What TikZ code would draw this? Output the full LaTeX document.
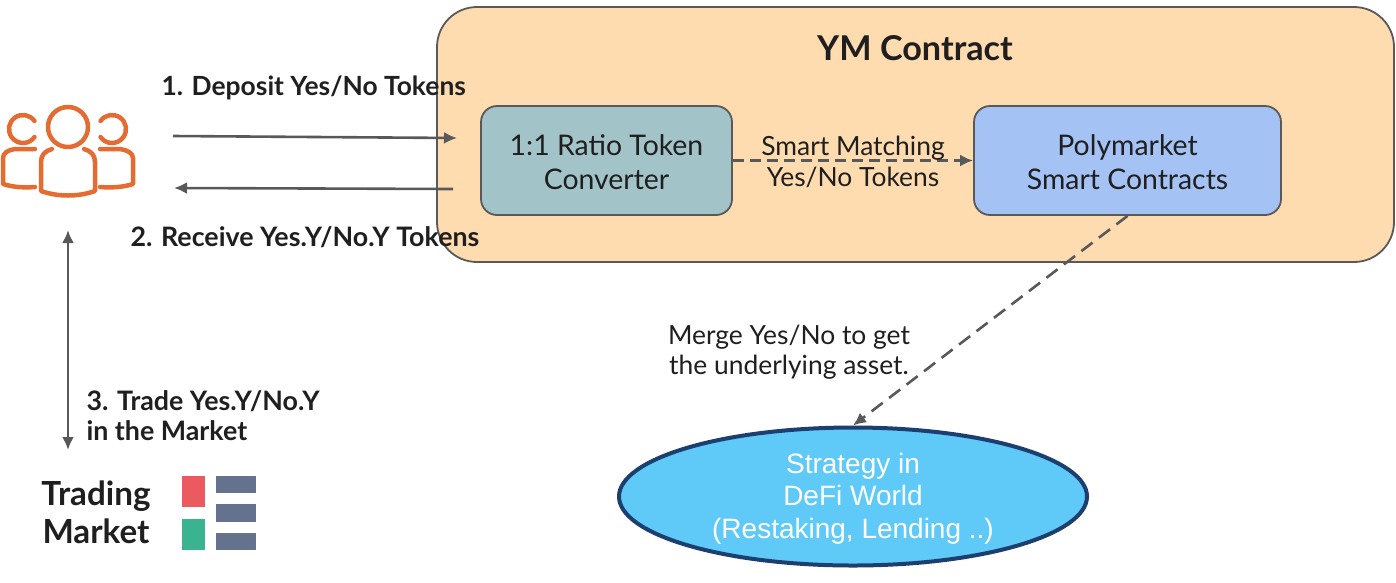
\documentclass[tikz,border=0pt]{standalone}
\usepackage{fontspec}
\setmainfont{Lato}
\newfontfamily\arialfont{Liberation Sans}
\usetikzlibrary{arrows.meta,shapes.geometric}
\definecolor{linegray}{HTML}{595959}
\definecolor{inkblack}{HTML}{1F1F1F}
\definecolor{peachfill}{HTML}{FFDBB0}
\definecolor{tealfill}{HTML}{A2C4C9}
\definecolor{bluefill}{HTML}{A4C2F4}
\definecolor{skyfill}{HTML}{5FCAF7}
\definecolor{navyline}{HTML}{1C3F70}
\definecolor{iconorange}{HTML}{E46C33}
\definecolor{barred}{HTML}{EB5A5F}
\definecolor{bargreen}{HTML}{3AB391}
\definecolor{barslate}{HTML}{64728E}
\tikzset{
	box/.style={draw=linegray,line width=1.8pt,rounded corners=16pt,minimum height=109pt},
	boxlabel/.style={align=center,text=inkblack,font=\fontsize{28.4}{34}\selectfont},
	conn/.style={draw=linegray,line width=2.6pt,-{Latex[length=13pt,width=12pt]}},
	boldlabel/.style={align=left,text=inkblack,font=\fontsize{26.8}{30}\selectfont\bfseries},
	plainlabel/.style={align=center,text=inkblack,font=\fontsize{26.4}{30.5}\selectfont},
	person/.style={draw=iconorange,line width=4.5pt,line cap=round,line join=round},
}
\begin{document}
\begin{tikzpicture}[x=1pt,y=-1pt]
	\useasboundingbox (0,0) rectangle (1396,582);
	%% contract block
	\node[box,fill=peachfill,rounded corners=40pt,minimum width=957pt,minimum height=255pt] (contract) at (915.5,134.5) {};
	\node[text=inkblack,font=\fontsize{34.2}{40}\selectfont\bfseries] (contracttitle) at (915,48) {YM Contract};
	\node[box,fill=tealfill,minimum width=251pt] (converter) at (606.5,160.5) {};
	\node[box,fill=bluefill,minimum width=307pt] (polymarket) at (1127.5,160.5) {};
	\node[ellipse,draw=navyline,line width=4pt,fill=skyfill,inner sep=0pt,minimum width=468pt,minimum height=138pt] (strategy) at (853,496.5) {};
	\node[align=center,text=white,font=\arialfont\fontsize{28}{32.5}\selectfont] (strategylabel) at (853,498.5) {Strategy in\\DeFi World\\(Restaking, Lending ..)};
	\node[boxlabel] (converterlabel) at (606.5,162.5) {1:1 Ratio Token\\Converter};
	\node[boxlabel] (polymarketlabel) at (1127.5,162.5) {Polymarket\\Smart Contracts};
	%% free ends
	\coordinate (usersout) at (173,136);
	\coordinate (contractin) at (457,138);
	\coordinate (contractout) at (453,189);
	\coordinate (usersin) at (174,188);
	\coordinate (usersdown) at (68,230);
	\coordinate (marketup) at (68,450);
	%% connectors
	\draw[conn] (usersout) -- (contractin);
	\draw[conn] (contractout) -- (usersin);
	\draw[conn,{Latex[length=13pt,width=12pt]}-{Latex[length=13pt,width=12pt]}] (usersdown) -- (marketup);
	\draw[conn,dashed,dash pattern=on 11pt off 6pt] (converter.east) -- (polymarket.west);
	\draw[conn,dashed,dash pattern=on 14pt off 8pt] (polymarket.south) -- (strategy.north);
	%% labels
	\node[boldlabel,anchor=west,font=\fontsize{26.4}{30}\selectfont\bfseries] (depositlabel) at (158,88) {1. Deposit Yes/No Tokens};
	\node[boldlabel,anchor=west] (receivelabel) at (127,237) {2. Receive Yes.Y/No.Y Tokens};
	\node[boldlabel,anchor=west] (tradelabel) at (83,416) {3. Trade Yes.Y/No.Y\\in the Market};
	\node[plainlabel] (matchlabel) at (853,162) {Smart Matching\\Yes/No Tokens};
	\node[plainlabel] (mergelabel) at (789,352) {Merge Yes/No to get\\the underlying asset.};
	\node[align=center,text=inkblack,font=\fontsize{33.2}{38}\selectfont\bfseries] (marketlabel) at (96,512) {Trading\\Market};
	%% users icon
	\draw[person] (68,127) circle[radius=20];
	\draw[person] (52,149) .. controls (45,151) and (41,155) .. (41,162) -- (41,191) .. controls (58,197) and (78,197) .. (95,191) -- (95,162) .. controls (95,155) and (91,151) .. (84,149);
	\draw[person] (23,129) ++(-35:14) arc[start angle=-35,end angle=-325,radius=14];
	\draw[person] (35,149) -- (15,149) .. controls (8,150) and (3,153) .. (3,158) -- (3,184) .. controls (12,187) and (24,188) .. (35,187);
	\draw[person] (112,129) ++(-145:14) arc[start angle=-145,end angle=145,radius=14];
	\draw[person] (100,149) -- (120,149) .. controls (127,150) and (133,153) .. (133,158) -- (133,184) .. controls (124,187) and (112,188) .. (100,187);
	%% market icon
	\fill[barred] (182,476) rectangle (205,507);
	\fill[bargreen] (182,519) rectangle (205,550);
	\fill[barslate] (216,476) rectangle (256,493);
	\fill[barslate] (216,504) rectangle (256,522);
	\fill[barslate] (216,533) rectangle (256,550);
\end{tikzpicture}
\end{document}
